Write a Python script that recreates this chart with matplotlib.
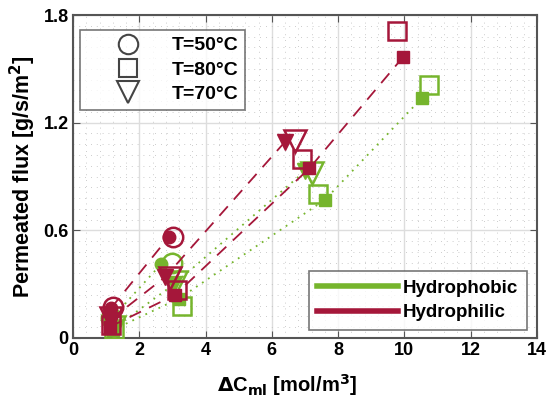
import matplotlib.pyplot as plt
from matplotlib.lines import Line2D
from matplotlib.ticker import MultipleLocator
import numpy as np

plt.rcParams['font.family'] = ['Liberation Sans', 'DejaVu Sans']
plt.rcParams['font.weight'] = 'bold'

green = '#76b52d'
red = '#a5173a'

temps = ['T=50°C', 'T=80°C', 'T=70°C']
markers = ['o', 's', 'v']

# hydrophobic (green): filled markers joined by dotted lines, open markers alone
pho_fill_x = {'o': [1.12, 2.65], 's': [1.2, 3.2, 7.6, 10.52], 'v': [1.2, 3.05, 7.0]}
pho_fill_y = {'o': [0.10, 0.41], 's': [0.045, 0.22, 0.77, 1.336], 'v': [0.05, 0.30, 0.93]}
pho_open_x = {'o': [1.15, 2.98], 's': [1.25, 3.3, 7.4, 10.75], 'v': [1.25, 3.1, 7.2]}
pho_open_y = {'o': [0.11, 0.42], 's': [0.05, 0.18, 0.80, 1.41], 'v': [0.06, 0.31, 0.92]}

# hydrophilic (red): filled markers joined by dashed lines
phi_fill_x = {'o': [1.15, 2.9], 's': [1.12, 3.08, 7.13, 9.97], 'v': [1.12, 2.78, 6.4]}
phi_fill_y = {'o': [0.167, 0.565], 's': [0.063, 0.24, 0.945, 1.568], 'v': [0.10, 0.34, 1.094]}
phi_open_x = {'o': [1.2, 3.02], 's': [1.15, 3.14, 6.9, 9.79], 'v': [1.15, 2.93, 6.7]}
phi_open_y = {'o': [0.17, 0.565], 's': [0.07, 0.27, 1.0, 1.713], 'v': [0.11, 0.334, 1.10]}

fill_size = {'o': 9, 's': 9, 'v': 11}
open_size = {'o': 14, 's': 13, 'v': 16}

fig = plt.figure(figsize=(5.47, 4.08), dpi=100)
ax = fig.add_axes([0.1335, 0.1716, 0.848, 0.7914])

for m in markers:
  ax.plot(pho_fill_x[m], pho_fill_y[m], linestyle=(0, (1, 3)), color=green, lw=1.3,
          marker=m, markersize=fill_size[m], markerfacecolor=green, markeredgecolor=green, zorder=3)
  ax.plot(pho_open_x[m], pho_open_y[m], linestyle='none', marker=m, markersize=open_size[m],
          markerfacecolor='none', markeredgecolor=green, markeredgewidth=1.8, zorder=3)
for m in markers:
  ax.plot(phi_fill_x[m], phi_fill_y[m], linestyle=(0, (7, 5)), color=red, lw=1.3,
          marker=m, markersize=fill_size[m], markerfacecolor=red, markeredgecolor=red, zorder=4)
  ax.plot(phi_open_x[m], phi_open_y[m], linestyle='none', marker=m, markersize=open_size[m],
          markerfacecolor='none', markeredgecolor=red, markeredgewidth=1.8, zorder=4)

ax.set_xlim(0, 14)
ax.set_ylim(0, 1.8)
ax.set_xticks(np.arange(0, 15, 2))
ax.set_yticks([0, 0.6, 1.2, 1.8])
ax.set_yticklabels(['0', '0.6', '1.2', '1.8'])
ax.xaxis.set_minor_locator(MultipleLocator(0.4))
ax.yaxis.set_minor_locator(MultipleLocator(0.06))
ax.grid(True, which='major', color='#dddddd', lw=1.0)
ax.grid(True, which='minor', color='#bbbbbb', lw=0.6, linestyle=(0, (1, 6)))
ax.set_axisbelow(True)
ax.tick_params(which='major', direction='in', top=True, right=True, length=5,
               labelsize=13, color='#555555', pad=3)
ax.tick_params(which='minor', length=0)
for s in ax.spines.values():
  s.set_color('#555555')
  s.set_linewidth(1.5)

ax.set_xlabel(r'$\mathbf{\Delta}$C$_{\mathbf{ml}}$ [mol/m$^\mathbf{3}$]', fontsize=14.5, fontweight='bold')
ax.xaxis.set_label_coords(0.461, -0.105)
ax.set_ylabel(r'Permeated flux [g/s/m$^\mathbf{2}$]', fontsize=15.5, fontweight='bold', labelpad=4)

h1 = [Line2D([], [], linestyle='none', marker=m, markersize=open_size[m], markerfacecolor='none',
             markeredgecolor='#444444', markeredgewidth=1.5) for m in markers]
leg1 = ax.legend(h1, temps, loc='upper left', bbox_to_anchor=(0.015, 0.954), borderaxespad=0,
                 prop={'weight': 'bold', 'size': 14}, frameon=True, fancybox=False,
                 edgecolor='#555555', handlelength=4.2, borderpad=0.35, labelspacing=0.35,
                 handletextpad=0.15)
leg1.get_frame().set_linewidth(1.2)
ax.add_artist(leg1)

h2 = [Line2D([], [], color=green, lw=4), Line2D([], [], color=red, lw=4)]
leg2 = ax.legend(h2, ['Hydrophobic', 'Hydrophilic'], loc='lower right', borderaxespad=0,
                 bbox_to_anchor=(0.978, 0.025), prop={'weight': 'bold', 'size': 13.5},
                 frameon=True, fancybox=False, edgecolor='#555555', handlelength=4.3,
                 borderpad=0.46, labelspacing=0.39, handletextpad=0.25)
leg2.get_frame().set_linewidth(1.2)

fig.savefig('out.png', dpi=100)
plt.close()
